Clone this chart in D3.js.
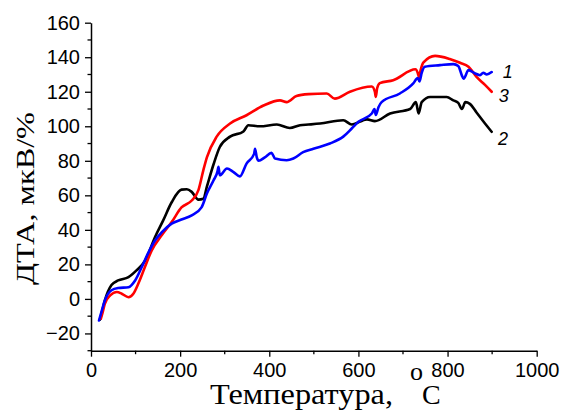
<!DOCTYPE html>
<html><head><meta charset="utf-8">
<script src="https://cdn.jsdelivr.net/npm/d3@7"></script>
<style>
body{margin:0;background:#fff;}
svg{display:block;}
</style></head>
<body>
<svg id="chart" width="561" height="414"></svg>
<script>
// ---- data ----
const xTicks = [0, 200, 400, 600, 800, 1000];
const yTicks = [-20, 0, 20, 40, 60, 80, 100, 120, 140, 160];

const seriesNames = ["1", "2", "3"];
const seriesColors = ["#0000ff", "#000000", "#ff0000"];

// series 1 (blue)
const t1 = [18, 24, 31, 46, 61, 84, 99, 114, 129, 144, 159, 181, 203, 226, 248, 260, 275, 284, 286, 289, 305, 319, 334, 349, 366, 368, 372, 376, 390, 405, 413, 439, 454, 476, 499, 536, 566, 585, 600, 630, 636, 639, 645, 652, 693, 723, 733, 737, 742, 749, 783, 813, 824, 832, 836, 847, 862, 873, 880, 888, 899];
const v1 = [-12.5, -7, -0.9, 5, 6.3, 6.8, 10.7, 18.5, 27, 34, 38.7, 43.6, 46, 48.4, 53, 61, 68.7, 74, 76.5, 71.6, 75.5, 73.6, 71, 78.4, 84, 87, 82, 80, 82, 84.6, 81.3, 80.3, 81.3, 85, 87, 90, 94, 98.7, 102.6, 107.4, 110, 106.5, 111, 114, 119, 124.8, 128, 126, 131, 134.5, 135.4, 136, 134.9, 129.5, 127.5, 132.5, 130.6, 129.6, 131, 130, 131.4];

// series 2 (black)
const t2 = [20, 25, 31, 46, 61, 84, 102, 121, 144, 162, 181, 203, 215, 226, 241, 252, 260, 275, 289, 312, 342, 353, 379, 417, 446, 469, 488, 514, 566, 585, 619, 637, 671, 716, 729, 735, 742, 761, 798, 813, 824, 832, 840, 850, 865, 884, 899];
const v2 = [-12, -7, -1, 8, 10.7, 12.6, 16.5, 22, 36, 45.5, 56, 63.3, 63.5, 62, 57.5, 58, 65, 78, 88, 94, 97, 100.6, 100, 101, 99, 100.6, 101, 101.6, 103.5, 101, 104, 103, 107.4, 110, 114, 107.4, 114, 117, 117, 115, 113.6, 110, 114, 113, 108, 101.6, 96.8];

// series 3 (red)
const t3 = [22, 26, 31, 43, 58, 69, 84, 95, 106, 121, 136, 159, 181, 203, 226, 241, 252, 260, 282, 312, 349, 387, 424, 439, 461, 488, 529, 547, 581, 630, 637, 639, 642, 648, 678, 728, 733, 736, 740, 746, 772, 805, 828, 847, 865, 884, 899];
const v3 = [-11.5, -8, -2.8, 2, 4, 3, 1, 3, 8.8, 18.5, 28, 37, 44.5, 53, 57, 63, 74.5, 82, 94, 101.6, 106.4, 112, 115, 114, 117.5, 118.6, 119, 116, 120, 123, 120, 117, 122, 125, 126.7, 133, 131, 128.5, 133, 137, 140.8, 139, 136.8, 134.5, 128.6, 124, 120];

// curve labels (annotation anchors in data units)
const labelT = [924, 913, 915];
const labelV = [128, 89, 114];

const xTitle = "Температура,";
const xTitleSup = "o";
const xTitleUnit = "C";
const yTitle = "ДТА, мкВ/%";

// ---- drawing ----
const svg = d3.select("#chart");
const x = d3.scaleLinear().domain([0, 1000]).range([91, 536.7]);
const y = d3.scaleLinear().domain([-30, 160]).range([350.7, 22.7]);

const sans = "'Liberation Sans', Arial, sans-serif";
const serif = "'Liberation Serif', 'Times New Roman', serif";

// axes
const xMinor = d3.range(100, 1000, 200);
const yMinor = d3.range(-30, 161, 20);

const gx = svg.append("g").attr("transform", `translate(0,${y(-30)})`);
gx.call(d3.axisBottom(x).tickValues(xTicks).tickSize(6).tickSizeOuter(0).tickPadding(6).tickFormat(d3.format("d")));
gx.selectAll(".minor").data(xMinor).enter().append("line")
  .attr("x1", d => x(d)).attr("x2", d => x(d)).attr("y1", 0).attr("y2", 3.5)
  .attr("stroke", "#000").attr("stroke-width", 1.3);

const gy = svg.append("g").attr("transform", `translate(${x(0)},0)`);
gy.call(d3.axisLeft(y).tickValues(yTicks).tickSize(6).tickSizeOuter(0).tickPadding(5).tickFormat(d3.format("d")));
gy.selectAll(".minor").data(yMinor).enter().append("line")
  .attr("x1", 0).attr("x2", -3.5).attr("y1", d => y(d)).attr("y2", d => y(d))
  .attr("stroke", "#000").attr("stroke-width", 1.3);

[gx, gy].forEach(g => {
  g.selectAll("path.domain").attr("stroke", "#000").attr("stroke-width", 1.5);
  g.selectAll(".tick line").attr("stroke", "#000").attr("stroke-width", 1.3);
  g.selectAll(".tick text").attr("fill", "#000").attr("font-family", sans).attr("font-size", 20);
});

// lines
const seriesT = [t1, t2, t3];
const seriesV = [v1, v2, v3];
const line = d3.line().x(d => x(d[0])).y(d => y(d[1])).curve(d3.curveMonotoneX);
[1, 2, 0].forEach(i => {
  const pts = seriesT[i].map((t, k) => [t, seriesV[i][k]]);
  svg.append("path").datum(pts)
    .attr("d", line)
    .attr("fill", "none")
    .attr("stroke", seriesColors[i])
    .attr("stroke-width", 2.6)
    .attr("stroke-linejoin", "round")
    .attr("stroke-linecap", "round");
});

// curve labels
seriesNames.forEach((n, i) => {
  svg.append("text")
    .attr("x", x(labelT[i])).attr("y", y(labelV[i]))
    .attr("font-family", sans).attr("font-style", "italic").attr("font-size", 18)
    .attr("fill", "#000").text(n);
});

// x title
svg.append("text")
  .attr("x", 210).attr("y", 404)
  .attr("font-family", serif).attr("font-size", 30).attr("fill", "#000")
  .attr("textLength", 183).attr("lengthAdjust", "spacingAndGlyphs")
  .text(xTitle);
svg.append("text")
  .attr("x", 410).attr("y", 380)
  .attr("font-family", serif).attr("font-size", 26).attr("fill", "#000")
  .text(xTitleSup);
svg.append("text")
  .attr("x", 422).attr("y", 404)
  .attr("font-family", serif).attr("font-size", 28).attr("fill", "#000")
  .text(xTitleUnit);

// y title
svg.append("text")
  .attr("transform", "translate(34,198.5) rotate(-90)")
  .attr("text-anchor", "middle")
  .attr("font-family", serif).attr("font-size", 25).attr("fill", "#000")
  .attr("textLength", 173).attr("lengthAdjust", "spacingAndGlyphs")
  .text(yTitle);
</script>
</body></html>
